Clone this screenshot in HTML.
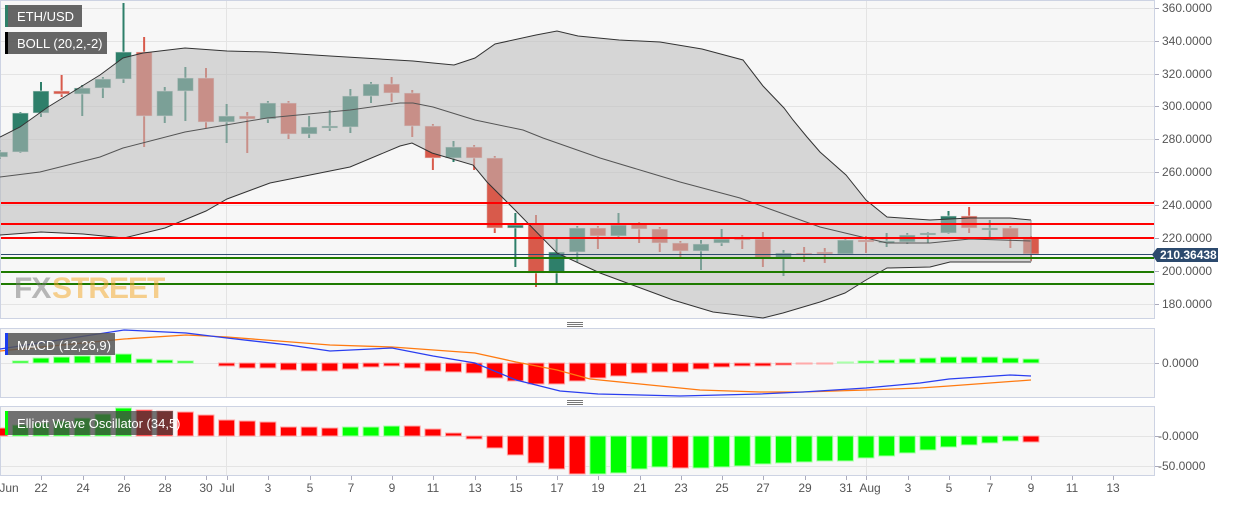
<!DOCTYPE html>
<html><head><meta charset="utf-8"><style>
html,body{margin:0;padding:0;background:#fff;}
body{width:1244px;height:501px;overflow:hidden;font-family:"Liberation Sans",sans-serif;}
svg text{font-family:"Liberation Sans",sans-serif;}
</style></head><body>
<svg id="s" width="1244" height="501" xmlns="http://www.w3.org/2000/svg">
<rect x="0" y="0" width="1244" height="501" fill="#fff"/>
<rect x="0.5" y="0.5" width="1154" height="318" fill="#f7f7f7" stroke="#cdd3e3"/>
<rect x="0.5" y="328.5" width="1154" height="69" fill="#f7f7f7" stroke="#cdd3e3"/>
<rect x="0.5" y="406.5" width="1154" height="69" fill="#f7f7f7" stroke="#cdd3e3"/>
<g stroke="#e4e4e4" stroke-width="1">
<line x1="1" x2="1154" y1="8.5" y2="8.5"/><line x1="1" x2="1154" y1="41.5" y2="41.5"/><line x1="1" x2="1154" y1="74.5" y2="74.5"/><line x1="1" x2="1154" y1="106.5" y2="106.5"/><line x1="1" x2="1154" y1="139.5" y2="139.5"/><line x1="1" x2="1154" y1="172.5" y2="172.5"/><line x1="1" x2="1154" y1="205.5" y2="205.5"/><line x1="1" x2="1154" y1="238.5" y2="238.5"/><line x1="1" x2="1154" y1="271.5" y2="271.5"/><line x1="1" x2="1154" y1="304.5" y2="304.5"/>
<line x1="1" x2="1154" y1="363.5" y2="363.5"/><line x1="1" x2="1154" y1="436.5" y2="436.5"/><line x1="1" x2="1154" y1="466.5" y2="466.5"/>
<line x1="226.5" x2="226.5" y1="1" y2="318"/><line x1="866.5" x2="866.5" y1="1" y2="318"/>
<line x1="226.5" x2="226.5" y1="329" y2="397"/><line x1="866.5" x2="866.5" y1="329" y2="397"/>
<line x1="226.5" x2="226.5" y1="407" y2="475"/><line x1="866.5" x2="866.5" y1="407" y2="475"/>
</g>
<g id="candles"></g>
<g id="band"></g>
<g id="lines"></g>
<g opacity="0.5" font-weight="bold"><text x="14" y="298" font-size="30" fill="#777" letter-spacing="-1">FX</text><text x="52" y="298" font-size="30" fill="#f5a623" letter-spacing="-1">STREET</text></g>
<g id="macd"></g>
<g id="ewo"></g>
<rect x="5" y="5" width="77" height="22" fill="#555" opacity="0.9"/><rect x="5" y="5" width="3" height="22" fill="#2e8068"/>
<text x="17" y="21" font-size="13" fill="#fff">ETH/USD</text>
<rect x="5" y="32" width="102" height="22" fill="#555" opacity="0.9"/><rect x="5" y="32" width="3" height="22" fill="#000"/>
<text x="17" y="48" font-size="13" fill="#fff">BOLL (20,2,-2)</text>
<rect x="5" y="333" width="110" height="22" fill="#555" opacity="0.85"/><rect x="5" y="333" width="3" height="22" fill="#1a3cf0"/>
<text x="17" y="350" font-size="13" fill="#fff">MACD (12,26,9)</text>
<rect x="5" y="411" width="168" height="24" fill="#444" opacity="0.75"/><rect x="5" y="411" width="3" height="24" fill="#00ff00"/>
<text x="17" y="428" font-size="13" fill="#fff">Elliott Wave Oscillator (34,5)</text>
<g stroke="#777" stroke-width="1"><line x1="567" x2="583" y1="322.5" y2="322.5"/><line x1="567" x2="583" y1="324.5" y2="324.5"/><line x1="567" x2="583" y1="326.5" y2="326.5"/>
<line x1="567" x2="583" y1="400.5" y2="400.5"/><line x1="567" x2="583" y1="402.5" y2="402.5"/><line x1="567" x2="583" y1="404.5" y2="404.5"/></g>
<g font-size="12" fill="#555">
<text x="1162" y="12">360.0000</text><text x="1162" y="45">340.0000</text><text x="1162" y="78">320.0000</text><text x="1162" y="110">300.0000</text><text x="1162" y="143">280.0000</text><text x="1162" y="176">260.0000</text><text x="1162" y="209">240.0000</text><text x="1162" y="242">220.0000</text><text x="1162" y="275">200.0000</text><text x="1162" y="308">180.0000</text>
<text x="1162" y="367">0.0000</text><text x="1158" y="440">-0.0000</text><text x="1158" y="470">-50.0000</text>
</g>
<g stroke="#aab" stroke-width="1"><line x1="1155" x2="1159" y1="8.5" y2="8.5"/><line x1="1155" x2="1159" y1="41.5" y2="41.5"/><line x1="1155" x2="1159" y1="74.5" y2="74.5"/><line x1="1155" x2="1159" y1="106.5" y2="106.5"/><line x1="1155" x2="1159" y1="139.5" y2="139.5"/><line x1="1155" x2="1159" y1="172.5" y2="172.5"/><line x1="1155" x2="1159" y1="205.5" y2="205.5"/><line x1="1155" x2="1159" y1="238.5" y2="238.5"/><line x1="1155" x2="1159" y1="271.5" y2="271.5"/><line x1="1155" x2="1159" y1="304.5" y2="304.5"/><line x1="1155" x2="1159" y1="363.5" y2="363.5"/><line x1="1155" x2="1159" y1="436.5" y2="436.5"/><line x1="1155" x2="1159" y1="466.5" y2="466.5"/></g>
<path d="M1152 254.5 L1157 248 H1218 V262 H1157 Z" fill="#2c4a6e"/>
<text x="1160" y="259" font-size="12" font-weight="bold" fill="#fff">210.36438</text>
<g id="xt" stroke="#aab"></g>
<g font-size="12" fill="#555" text-anchor="middle">
<text x="9" y="492">Jun</text><text x="41" y="492">22</text><text x="83" y="492">24</text><text x="124" y="492">26</text><text x="165" y="492">28</text><text x="206" y="492">30</text><text x="227" y="492">Jul</text><text x="268" y="492">3</text><text x="310" y="492">5</text><text x="351" y="492">7</text><text x="392" y="492">9</text><text x="433" y="492">11</text><text x="475" y="492">13</text><text x="516" y="492">15</text><text x="557" y="492">17</text><text x="598" y="492">19</text><text x="640" y="492">21</text><text x="681" y="492">23</text><text x="722" y="492">25</text><text x="763" y="492">27</text><text x="805" y="492">29</text><text x="846" y="492">31</text><text x="870" y="492">Aug</text><text x="908" y="492">3</text><text x="949" y="492">5</text><text x="990" y="492">7</text><text x="1031" y="492">9</text><text x="1072" y="492">11</text><text x="1113" y="492">13</text>
</g>
</svg>
<script>
var NS="http://www.w3.org/2000/svg";
function el(p,t,a){var e=document.createElementNS(NS,t);for(var k in a)e.setAttribute(k,a[k]);p.appendChild(e);return e;}
function X(i){return -0.25+20.625*i;}
var C=[[152,157,150,159,'g'],[113,152,112,153,'g'],[91,113,82,117,'g'],[91,94,75,97,'r'],[88,94,85,116,'g'],[79,88,77,98,'g'],[52,79,3,83,'g'],[52,116,37,147,'r'],[91,116,87,123,'g'],[78,91,67,121,'g'],[78,122,68,128,'r'],[116,122,104,143,'g'],[116,119,112,153,'r'],[103,119,101,123,'g'],[103,134,101,139,'r'],[127,134,116,138,'g'],[126,127,110,131,'g'],[96,127,89,133,'g'],[84,96,82,103,'g'],[84,93,77,102,'r'],[93,126,90,137,'r'],[126,158,124,170,'r'],[147,158,141,162,'g'],[147,158,145,170,'r'],[158,228,156,233,'r'],[225,228,213,267,'g'],[224,273,215,287,'r'],[252,273,238,283,'g'],[228,252,226,262,'g'],[228,236,226,249,'r'],[225,236,213,237,'g'],[224,229,222,243,'r'],[229,243,227,252,'r'],[243,251,241,257,'r'],[244,251,240,270,'g'],[239,243,229,246,'g'],[237,240,235,249,'r'],[239,258,232,267,'r'],[253,258,250,276,'g'],[253,254,247,262,'r'],[252,254,248,263,'r'],[240,254,239,255,'g'],[240,242,236,253,'r'],[241,243,233,247,'g'],[235,242,233,244,'g'],[233,235,232,243,'g'],[216,233,211,234,'g'],[216,228,207,233,'r'],[228,229,220,237,'g'],[228,238,226,248,'r'],[237,254,236,261,'r']];
var cg=document.getElementById('candles');
C.forEach(function(c,i){var x=X(i);var col=c[4]=='g'?'#2e7f6a':'#d85a4b';
el(cg,'line',{x1:x,x2:x,y1:c[2],y2:c[3],stroke:col,'stroke-width':2});
el(cg,'rect',{x:x-8,y:c[0],width:16,height:Math.max(2,c[1]-c[0]),fill:col,stroke:'#e8e8e8','stroke-width':1,'stroke-opacity':0.6});});
var up=[[0,137],[20,127],[48,107],[100,75],[123,58],[143,53],[185,48],[227,51],[267,52],[330,56],[413,61],[433,63],[454,65],[475,58],[495,44],[536,35],[557,31],[578,36],[619,40],[660,42],[702,49],[743,60],[763,86],[784,108],[793,120],[807,137],[820,152],[846,175],[866,200],[887,217],[930,220],[970,218],[1010,218],[1031,220]];
var lo=[[0,235],[41,232],[83,234],[124,238],[165,228],[206,211],[227,199],[270,183],[350,167],[400,146],[412,143],[432,153],[473,165],[487,182],[515,210],[557,253],[600,273],[673,300],[713,312],[763,318],[783,313],[820,302],[845,293],[866,280],[887,268],[930,267],[950,262],[1031,262]];
var mid=[[0,177],[40,172],[100,157],[123,148],[185,132],[267,118],[350,110],[400,103],[413,103],[433,107],[475,120],[523,130],[543,138],[600,158],[650,173],[680,182],[740,198],[767,208],[820,227],[866,238],[887,243],[930,243],[970,239],[1031,241]];
function pts(a){return a.map(function(p){return p[0]+','+p[1];}).join(' ');}
var bg=document.getElementById('band');
var poly=up.concat(lo.slice().reverse());
el(bg,'polygon',{points:pts(poly),fill:'rgba(188,188,188,0.55)'});
el(bg,'polyline',{points:pts(up),fill:'none',stroke:'#333','stroke-width':1});
el(bg,'polyline',{points:pts(lo),fill:'none',stroke:'#333','stroke-width':1});
el(bg,'polyline',{points:pts(mid),fill:'none',stroke:'#555','stroke-width':1});
el(bg,'line',{x1:1031,x2:1031,y1:220,y2:262,stroke:'#999','stroke-width':1});
var lg=document.getElementById('lines');
[[203,'#ff0000'],[224,'#ff0000'],[238,'#ff0000'],[258,'#1e7a00'],[272,'#1e7a00'],[284,'#1e7a00']].forEach(function(l){el(lg,'line',{x1:1,x2:1154,y1:l[0],y2:l[0],stroke:l[1],'stroke-width':2});});
el(lg,'line',{x1:1,x2:1154,y1:254.5,y2:254.5,stroke:'#2c4a6e','stroke-width':1});
var M=[363,361,358,357,356,356,354,359,360,361,363,366,368,368,370,371,371,369,367,366,368,371,372,373,378,381,384,384,381,378,376,373,372,372,369,367,366,366,365,364,364,362,361,360,359,358,357,357,357,358,359];
var mg=document.getElementById('macd');
M.forEach(function(v,i){var x=X(i);if(v==363)return;var g=v<363;
el(mg,'rect',{x:x-8,y:g?v:363,width:16,height:Math.abs(v-363),fill:g?'#00ff00':'#ff0000',stroke:g?'#aaffaa':'#ffaaaa','stroke-width':1});});
var blue=[[0,349],[124,330],[186,333],[227,338],[289,345],[330,351],[392,348],[433,356],[475,363],[516,380],[560,391],[598,394],[640,395],[680,396],[760,394],[803,392],[866,388],[920,383],[949,379],[1010,375],[1031,376]];
var orng=[[0,351],[124,339],[186,335],[227,337],[330,345],[392,347],[475,353],[516,362],[557,370],[590,379],[640,384],[660,386],[700,390],[760,392],[803,392],[866,390],[920,388],[949,386],[1031,380]];
el(mg,'polyline',{points:pts(orng),fill:'none',stroke:'#ff7a10','stroke-width':1.3});
el(mg,'polyline',{points:pts(blue),fill:'none',stroke:'#2a3ef0','stroke-width':1.3});
var E=[[428,'r'],[425,'g'],[423,'g'],[421,'g'],[418,'g'],[414,'g'],[408,'g'],[410,'r'],[411,'r'],[412,'r'],[415,'r'],[420,'r'],[421,'r'],[422,'r'],[427,'r'],[427,'r'],[428,'r'],[427,'g'],[427,'g'],[426,'g'],[426,'r'],[429,'r'],[433,'r'],[439,'r'],[448,'r'],[455,'r'],[463,'r'],[469,'r'],[474,'r'],[474,'g'],[473,'g'],[469,'g'],[467,'g'],[468,'r'],[468,'g'],[467,'g'],[466,'g'],[464,'g'],[463,'g'],[462,'g'],[461,'g'],[461,'g'],[458,'g'],[456,'g'],[453,'g'],[450,'g'],[447,'g'],[445,'g'],[443,'g'],[441,'g'],[442,'r']];
var eg=document.getElementById('ewo');
E.forEach(function(e,i){var x=X(i),v=e[0],g=e[1]=='g';
el(eg,'rect',{x:x-8,y:Math.min(v,436),width:16,height:Math.abs(v-436),fill:g?'#00ff00':'#ff0000',stroke:g?'#aaffaa':'#ffaaaa','stroke-width':1});});
var xt=document.getElementById('xt');
[41,83,124,165,206,227,268,310,351,392,433,475,516,557,598,640,681,722,763,805,846,866,908,949,990,1031,1072,1113].forEach(function(x){el(xt,'line',{x1:x+0.5,x2:x+0.5,y1:476,y2:480});});
</script>
</body></html>
